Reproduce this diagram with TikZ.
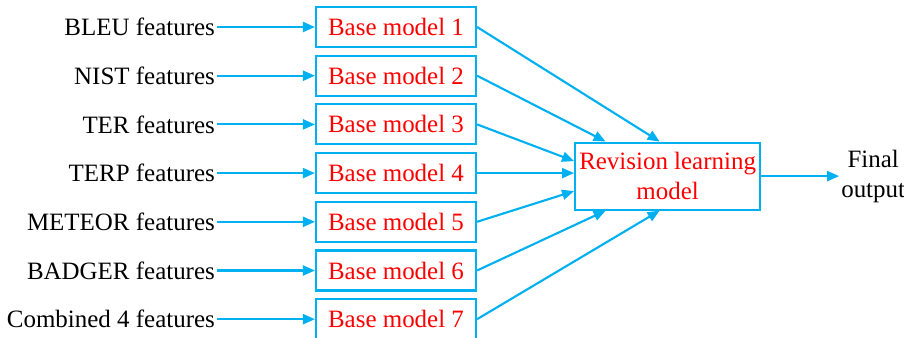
\documentclass[tikz,border=0pt]{standalone}
\usepackage{fontspec}
\setmainfont{Liberation Serif}
\usepackage{xcolor}
\usetikzlibrary{arrows.meta, positioning}
\definecolor{skyblue}{RGB}{0,176,240}
\definecolor{modelred}{RGB}{255,0,0}

\begin{document}
\begin{tikzpicture}[node distance=0.974cm, font=\fontsize{14.2}{17}\selectfont]
    \tikzstyle{base} = [rectangle, minimum width=3.2cm, minimum height=0.8cm, text centered, draw=skyblue, line width=1.2pt, text=modelred, inner sep=0pt]
    \tikzstyle{revision} = [rectangle, minimum width=3.7cm, minimum height=1.34cm, align=center, draw=skyblue, line width=1.2pt, text=modelred, inner sep=1pt]
    \tikzstyle{feat} = [anchor=east, inner sep=1pt]
    \tikzstyle{arrow} = [draw=skyblue, line width=1.2pt, -{Triangle[length=0.24cm, width=0.2cm]}]

    \useasboundingbox (0,0) rectangle (18.08,-6.76);

    \node (b1) [base] at (7.92,-0.54) {Base model 1};
    \node (b2) [base, below of=b1] {Base model 2};
    \node (b3) [base, below of=b2] {Base model 3};
    \node (b4) [base, below of=b3] {Base model 4};
    \node (b5) [base, below of=b4] {Base model 5};
    \node (b6) [base, below of=b5] {Base model 6};
    \node (b7) [base, below of=b6] {Base model 7};

    \node (f1) [feat, left=1.96cm of b1.west] {BLEU features};
    \node (f2) [feat, left=1.96cm of b2.west] {NIST features};
    \node (f3) [feat, left=1.96cm of b3.west] {TER features};
    \node (f4) [feat, left=1.96cm of b4.west] {TERP features};
    \node (f5) [feat, left=1.96cm of b5.west] {METEOR features};
    \node (f6) [feat, left=1.96cm of b6.west] {BADGER features};
    \node (f7) [feat, left=1.96cm of b7.west] {Combined 4 features};

    \node (rev) [revision, right=1.94cm of b4, yshift=-0.06cm] {Revision learning\\model};
    \node (out) [align=center, right=1.56cm of rev, inner sep=1pt] {Final\\output};

    % features -> base models
    \foreach \i in {1,...,7}
        \draw [arrow] (f\i.east) -- (b\i.west);

    % base models -> revision model
    \draw [arrow] (b1.east) -- ([xshift=-0.16cm]rev.north);
    \draw [arrow] (b2.east) -- ([xshift=-1.24cm]rev.north);
    \draw [arrow] (b3.east) -- ([yshift=0.3cm]rev.west);
    \draw [arrow] (b4.east) -- (b4.east -| rev.west);
    \draw [arrow] (b5.east) -- ([yshift=-0.3cm]rev.west);
    \draw [arrow] (b6.east) -- ([xshift=-1.24cm]rev.south);
    \draw [arrow] (b7.east) -- ([xshift=-0.16cm]rev.south);

    \draw [arrow] (rev.east) -- (out.west);
\end{tikzpicture}
\end{document}
